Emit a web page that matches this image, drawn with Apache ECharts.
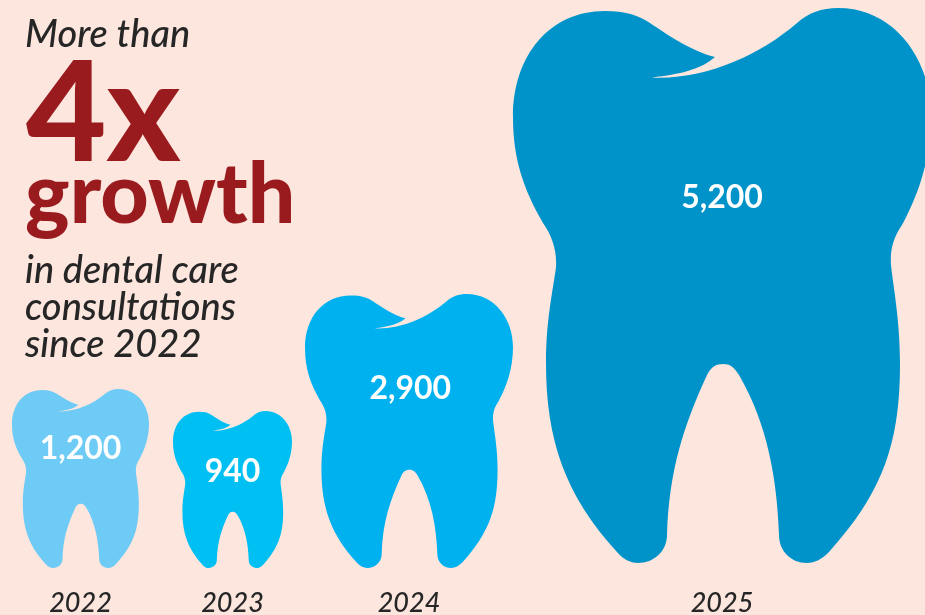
<!DOCTYPE html>
<html>
<head>
<meta charset="utf-8">
<style>html,body{margin:0;padding:0;background:#fce6de;overflow:hidden}#c{width:925px;height:615px}</style>
<script src="https://cdn.jsdelivr.net/npm/echarts@6/dist/echarts.min.js"></script>
</head>
<body>
<div id="c"></div>
<script>
const years = ['2022', '2023', '2024', '2025'];
const consultations = [1200, 940, 2900, 5200];
const toothColors = ['#6dcbf6', '#00c0f3', '#00b1f0', '#0093c9'];

const gridBoxes = [
  { left: 12, top: 389, width: 137, height: 179, outerBoundsMode: 'none' },
  { left: 173, top: 411, width: 119, height: 157, outerBoundsMode: 'none' },
  { left: 305, top: 294, width: 208, height: 274, outerBoundsMode: 'none' },
  { left: 513, top: 8, width: 418, height: 555, outerBoundsMode: 'none' }
];
const labelTops = ['33.5%', '38.9%', '34.6%', '34.1%'];
const labelLefts = ['50%', '50%', '50.6%', '50%'];
const yearMargins = [22, 22, 22, 27];

const tooth = 'path://M605 11C625 11 638 15 650 23C662 31 690 51 715 57C700 70 680 74 652 77.5C705 80 760 55 797 23C808 13 822 8 838 8C895 8 931 60 931 115C931 160 918 195 902 225C893 238 890 250 891 265C893 285 900 320 900 363C900 440 885 490 829 552C822 559 815 563 807 563C791 563 779 551 779 535C777 480 768 425 739 375C734 367 730 364 723 364C716 364 711 367 707 375C684 425 669 470 667 535C667 551 654 563 638 563C630 563 623 559 617 552C565 495 546 440 546 363C546 320 553 290 556 267C557 250 552 236 543 223C524 190 513 160 513 117C513 55 550 11 605 11Z';

const headline = [
  { text: 'More than', x: 25, y: 16, size: 38, weight: 500, style: 'italic', fill: '#262626' },
  { text: '4x', x: 26, y: 47, size: 139, weight: 900, style: 'normal', fill: '#9a1b1e' },
  { text: 'growth', x: 25, y: 154, size: 84, weight: 900, style: 'normal', fill: '#9a1b1e' },
  { text: 'in dental care', x: 25, y: 252, size: 38, weight: 500, style: 'italic', fill: '#262626' },
  { text: 'consultations', x: 25, y: 289, size: 38, weight: 500, style: 'italic', fill: '#262626' },
  { text: 'since 2022', x: 25, y: 326, size: 38, weight: 500, style: 'italic', fill: '#262626' }
];

const chart = echarts.init(document.getElementById('c'), null, { renderer: 'canvas' });
chart.setOption({
  animation: false,
  backgroundColor: '#fce6de',
  tooltip: { show: false },
  grid: gridBoxes,
  xAxis: years.map((y, i) => ({
    type: 'category',
    gridIndex: i,
    data: [y],
    axisLine: { show: false },
    axisTick: { show: false },
    axisLabel: {
      margin: yearMargins[i],
      fontFamily: 'Lato',
      fontStyle: 'italic',
      fontWeight: 500,
      fontSize: 27,
      color: '#262626'
    }
  })),
  yAxis: consultations.map((v, i) => ({
    type: 'value',
    gridIndex: i,
    min: 0,
    max: v,
    show: false
  })),
  series: consultations.map((v, i) => ({
    type: 'pictorialBar',
    xAxisIndex: i,
    yAxisIndex: i,
    barWidth: '100%',
    symbol: tooth,
    symbolSize: ['100%', '100%'],
    symbolPosition: 'start',
    itemStyle: { color: toothColors[i] },
    label: {
      show: true,
      position: [labelLefts[i], labelTops[i]],
      align: 'center',
      verticalAlign: 'middle',
      fontFamily: 'Lato',
      fontWeight: 700,
      fontSize: 32,
      color: '#ffffff',
      formatter: p => p.value.toLocaleString('en-US')
    },
    data: [v]
  })),
  graphic: headline.map(h => ({
    type: 'text',
    style: {
      text: h.text,
      x: h.x,
      y: h.y,
      fill: h.fill,
      font: `${h.style} ${h.weight} ${h.size}px Lato`,
      verticalAlign: 'top'
    }
  }))
});
</script>
</body>
</html>
